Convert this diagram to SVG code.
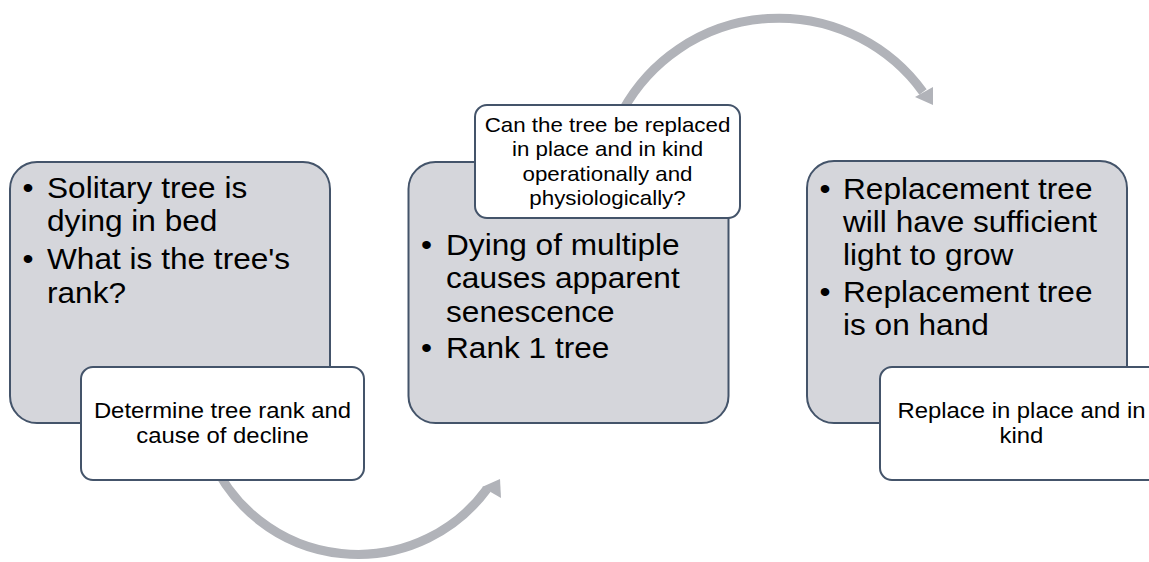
<svg xmlns="http://www.w3.org/2000/svg" width="1149" height="562" viewBox="0 0 1149 562">
  <style>
    .big { fill: #d5d6db; stroke: #44546a; stroke-width: 2; }
    .note { fill: #ffffff; stroke: #44546a; stroke-width: 2; }
    .arc { fill: none; stroke: #b1b3b9; stroke-width: 9; }
    .head { fill: #b1b3b9; }
    text { font-family: "Liberation Sans", Arial, sans-serif; fill: #000000; }
    .t1 { font-size: 29px; }
    .t2 { font-size: 22px; text-anchor: middle; }
    .t3 { font-size: 20.3px; text-anchor: middle; }
  </style>

  <!-- main step boxes -->
  <g id="step1">
    <rect class="big" x="10" y="162" width="320" height="261" rx="27"/>
    <g transform="translate(22.5,0) scale(1.09,1)"><text class="t1" y="198">•</text><text class="t1" y="269">•</text></g>
    <g transform="translate(47,0) scale(1.09,1)">
      <text class="t1" y="198">Solitary tree is</text>
      <text class="t1" y="231">dying in bed</text>
      <text class="t1" y="269">What is the tree's</text>
      <text class="t1" y="303">rank?</text>
    </g>
  </g>
  <g id="step2">
    <rect class="big" x="408.5" y="162" width="320" height="261" rx="27"/>
    <g transform="translate(421,0) scale(1.09,1)"><text class="t1" y="255">•</text><text class="t1" y="358">•</text></g>
    <g transform="translate(446,0) scale(1.09,1)">
      <text class="t1" y="255">Dying of multiple</text>
      <text class="t1" y="288.5">causes apparent</text>
      <text class="t1" y="322">senescence</text>
      <text class="t1" y="358">Rank 1 tree</text>
    </g>
  </g>
  <g id="step3">
    <rect class="big" x="807" y="161" width="320" height="262" rx="27"/>
    <g transform="translate(819.5,0) scale(1.09,1)"><text class="t1" y="199">•</text><text class="t1" y="302">•</text></g>
    <g transform="translate(843,0) scale(1.09,1)">
      <text class="t1" y="199">Replacement tree</text>
      <text class="t1" y="232">will have sufficient</text>
      <text class="t1" y="265">light to grow</text>
      <text class="t1" y="302">Replacement tree</text>
      <text class="t1" y="335">is on hand</text>
    </g>
  </g>

  <!-- curved arrows between steps -->
  <g id="connectors">
    <path class="arc" d="M 212 460 A 160 160 0 0 0 487 489"/>
    <polygon class="head" points="500,479 482,487 501,498"/>
    <path class="arc" d="M 623 110 A 178 178 0 0 1 923 92"/>
    <polygon class="head" points="933,105 915,97 933,87"/>
  </g>

  <!-- callout notes -->
  <g id="note1">
    <rect class="note" x="81" y="367" width="283" height="113" rx="12"/>
    <g transform="translate(222.5,0) scale(1.085,1)">
      <text class="t2" y="418.5">Determine tree rank and</text>
      <text class="t2" y="443">cause of decline</text>
    </g>
  </g>
  <g id="note2">
    <rect class="note" x="475" y="105" width="265" height="113" rx="12"/>
    <g transform="translate(607.5,0) scale(1.1,1)">
      <text class="t3" y="132">Can the tree be replaced</text>
      <text class="t3" y="156.5">in place and in kind</text>
      <text class="t3" y="181">operationally and</text>
      <text class="t3" y="205.5">physiologically?</text>
    </g>
  </g>
  <g id="note3">
    <rect class="note" x="880" y="367" width="283" height="113" rx="12"/>
    <g transform="translate(1021.5,0) scale(1.085,1)">
      <text class="t2" y="418.5">Replace in place and in</text>
      <text class="t2" y="443">kind</text>
    </g>
  </g>
</svg>
